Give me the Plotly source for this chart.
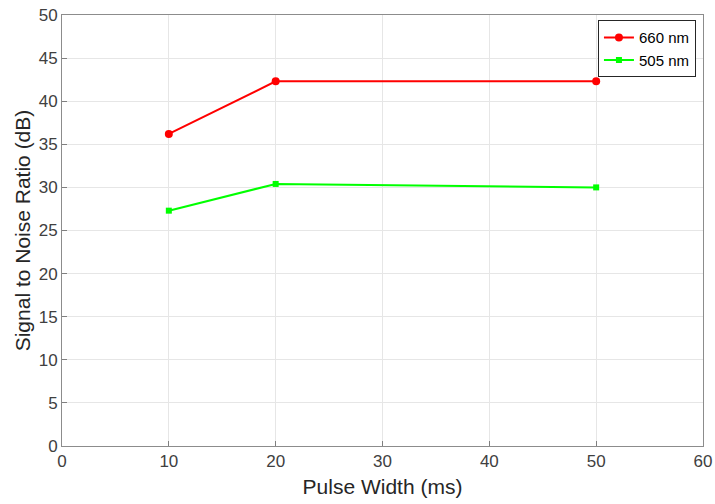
import plotly.graph_objects as go

pulse_width = [10, 20, 50]
snr_660 = [36.2, 42.3, 42.3]
snr_505 = [27.3, 30.4, 30.0]

fig = go.Figure()
fig.add_trace(go.Scatter(x=pulse_width, y=snr_660, mode="lines+markers", name="660 nm",
                         line=dict(color="#ff0000", width=2),
                         marker=dict(symbol="circle", size=8, color="#ff0000")))
fig.add_trace(go.Scatter(x=pulse_width, y=snr_505, mode="lines+markers", name="505 nm",
                         line=dict(color="#00ff00", width=2),
                         marker=dict(symbol="square", size=6, color="#00ff00")))

FONT = "Liberation Sans, Arial"
axis_common = dict(showline=True, linecolor="#8c8c8c", linewidth=1, mirror=True,
                   ticks="inside", ticklen=5, tickcolor="#7f7f7f", automargin=False,
                   showgrid=True, gridcolor="#e6e6e6", gridwidth=1, zeroline=False,
                   tickfont=dict(family=FONT, size=17, color="#404040"))

fig.update_xaxes(range=[0, 60], dtick=10, **axis_common,
                 title=dict(text="Pulse Width (ms)", standoff=8,
                            font=dict(family=FONT, size=21, color="#262626")))
fig.update_yaxes(range=[0, 50], dtick=5, **axis_common,
                 title=dict(text="Signal to Noise Ratio (dB)", standoff=2,
                            font=dict(family=FONT, size=21, color="#262626")))

fig.update_layout(width=715, height=504, margin=dict(l=62, r=12, t=15, b=58),
                  plot_bgcolor="white", paper_bgcolor="white",
                  legend=dict(x=0.989, y=0.988, xanchor="right", yanchor="top",
                              bordercolor="#262626", borderwidth=1, bgcolor="white",
                              font=dict(family=FONT, size=15, color="#000000"),
                              tracegroupgap=0, itemwidth=30),
                  showlegend=True)

fig.write_html("out.html")
